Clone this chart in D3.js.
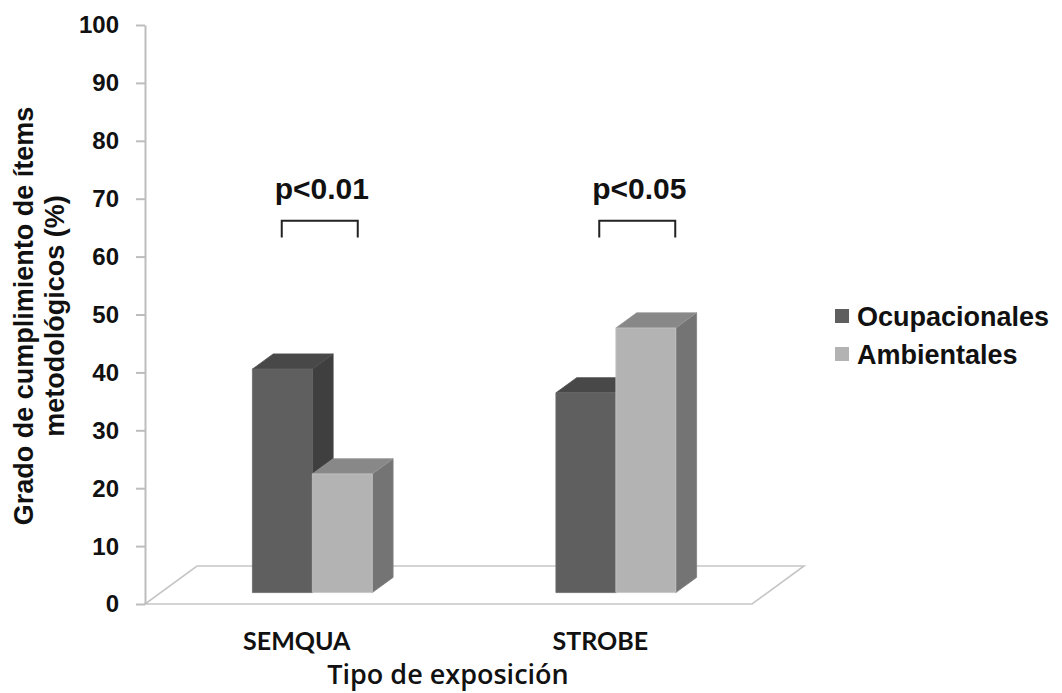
<!DOCTYPE html>
<html>
<head>
<meta charset="utf-8">
<script src="https://cdn.jsdelivr.net/npm/d3@7"></script>
<style>
  body { margin: 0; background: #fff; }
  svg { display: block; }
</style>
</head>
<body>
<svg id="chart"></svg>
<script>
// data
const categories = ["SEMQUA", "STROBE"];
const seriesNames = ["Ocupacionales", "Ambientales"];
const ocupacionales = [38.6, 34.5];
const ambientales = [20.5, 45.7];
const yTicks = [0, 10, 20, 30, 40, 50, 60, 70, 80, 90, 100];
const pLabels = ["p<0.01", "p<0.05"];

const width = 1062, height = 693;
const svg = d3.select("#chart").attr("width", width).attr("height", height);

// colours per series: front, top, side
const colors = [
  { front: "#5f5f5f", top: "#484848", side: "#3f3f3f" },
  { front: "#b3b3b3", top: "#888888", side: "#747474" }
];

const yScale = d3.scaleLinear().domain([0, 100]).range([604, 25]);
const xScale = d3.scaleBand().domain(categories).range([145, 752]);
const groupW = xScale.bandwidth() * 0.395;
const xSub = d3.scaleBand().domain(seriesNames).range([0, groupW]);

// oblique depth: one unit of depth moves right and up
const depthX = 52, depthY = -38;
const zFront = 0.3, zBack = 0.7;
const proj = (x, v, z) => [x + z * depthX, yScale(v) + z * depthY];

// floor outline
const floorPts = [proj(145, 0, 0), proj(752, 0, 0), proj(752, 0, 1), proj(145, 0, 1)];
svg.append("path")
  .attr("d", "M" + floorPts.join("L") + "Z")
  .attr("fill", "#fff")
  .attr("stroke", "#c6c6c6")
  .attr("stroke-width", 1.6);

// y axis
const yAxis = svg.append("g")
  .attr("transform", "translate(145,0)")
  .call(d3.axisLeft(yScale).tickValues(yTicks).tickSize(9).tickSizeOuter(0).tickPadding(17));
yAxis.select(".domain").attr("stroke", "#bdbdbd").attr("stroke-width", 2);
yAxis.selectAll(".tick line").attr("stroke", "#bdbdbd").attr("stroke-width", 2);
yAxis.selectAll(".tick text")
  .attr("fill", "#111")
  .attr("font-family", "'Liberation Sans', Arial, sans-serif")
  .attr("font-weight", "bold")
  .attr("font-size", 24)
  .attr("dy", "0.33em");

// bars
const bars = [];
categories.forEach((c, i) => {
  [ocupacionales[i], ambientales[i]].forEach((v, s) => {
    bars.push({ cat: c, s: s, v: v, x0: xScale(c) + (xScale.bandwidth() - groupW) / 2 + xSub(seriesNames[s]) });
  });
});

const barG = svg.append("g");
bars.forEach(d => {
  const w = xSub.bandwidth();
  const x0 = d.x0, x1 = d.x0 + w;
  const g = barG.append("g");
  const front = [proj(x0, 0, zFront), proj(x1, 0, zFront), proj(x1, d.v, zFront), proj(x0, d.v, zFront)];
  const top = [proj(x0, d.v, zFront), proj(x1, d.v, zFront), proj(x1, d.v, zBack), proj(x0, d.v, zBack)];
  const side = [proj(x1, 0, zFront), proj(x1, 0, zBack), proj(x1, d.v, zBack), proj(x1, d.v, zFront)];
  [[side, colors[d.s].side], [top, colors[d.s].top], [front, colors[d.s].front]].forEach(([pts, col]) => {
    g.append("path")
      .attr("d", "M" + pts.join("L") + "Z")
      .attr("fill", col)
      .attr("stroke", d3.color(col).brighter(0.25))
      .attr("stroke-width", 0.8)
      .attr("stroke-linejoin", "round");
  });
});

// category labels
svg.append("g").selectAll("text")
  .data(categories)
  .join("text")
  .attr("x", d => xScale(d) + xScale.bandwidth() / 2)
  .attr("y", 650)
  .attr("text-anchor", "middle")
  .attr("font-family", "Lato, sans-serif")
  .attr("font-weight", "bold")
  .attr("font-size", 25)
  .attr("fill", "#111")
  .text(d => d);

// x axis title
svg.append("text")
  .attr("x", 448)
  .attr("y", 684)
  .attr("text-anchor", "middle")
  .attr("font-family", "'Open Sans', sans-serif")
  .attr("font-weight", 600)
  .attr("font-size", 27)
  .attr("fill", "#111")
  .text("Tipo de exposición");

// y axis title (two lines)
const yTitle = svg.append("text")
  .attr("transform", "translate(33,316) rotate(-90)")
  .attr("text-anchor", "middle")
  .attr("font-family", "'Liberation Sans', Arial, sans-serif")
  .attr("font-weight", "bold")
  .attr("font-size", 27)
  .attr("fill", "#111");
yTitle.append("tspan").attr("x", 0).attr("y", 0).text("Grado de cumplimiento de ítems");
yTitle.append("tspan").attr("x", 0).attr("y", 31).text("metodológicos (%)");

// significance brackets
const pOffsets = [23, 37];
categories.forEach((c, i) => {
  const cx = xScale(c) + xScale.bandwidth() / 2 + pOffsets[i];
  svg.append("path")
    .attr("d", `M${cx - 38},${yScale(63.3)}V${yScale(66.2)}H${cx + 38}V${yScale(63.3)}`)
    .attr("fill", "none")
    .attr("stroke", "#222")
    .attr("stroke-width", 2);
  svg.append("text")
    .attr("x", cx + 2)
    .attr("y", yScale(70))
    .attr("text-anchor", "middle")
    .attr("font-family", "'Liberation Sans', Arial, sans-serif")
    .attr("font-weight", "bold")
    .attr("font-size", 30)
    .attr("fill", "#111")
    .text(pLabels[i]);
});

// legend
const legend = svg.append("g").attr("transform", "translate(835,0)");
seriesNames.forEach((n, i) => {
  const y = 316 + i * 38;
  legend.append("rect")
    .attr("x", 0).attr("y", y - 7)
    .attr("width", 14).attr("height", 14)
    .attr("fill", colors[i].front);
  legend.append("text")
    .attr("x", 22).attr("y", y + 9.5)
    .attr("font-family", "'Liberation Sans', Arial, sans-serif")
    .attr("font-weight", "bold")
    .attr("font-size", 27)
    .attr("fill", "#111")
    .text(n);
});
</script>
</body>
</html>
